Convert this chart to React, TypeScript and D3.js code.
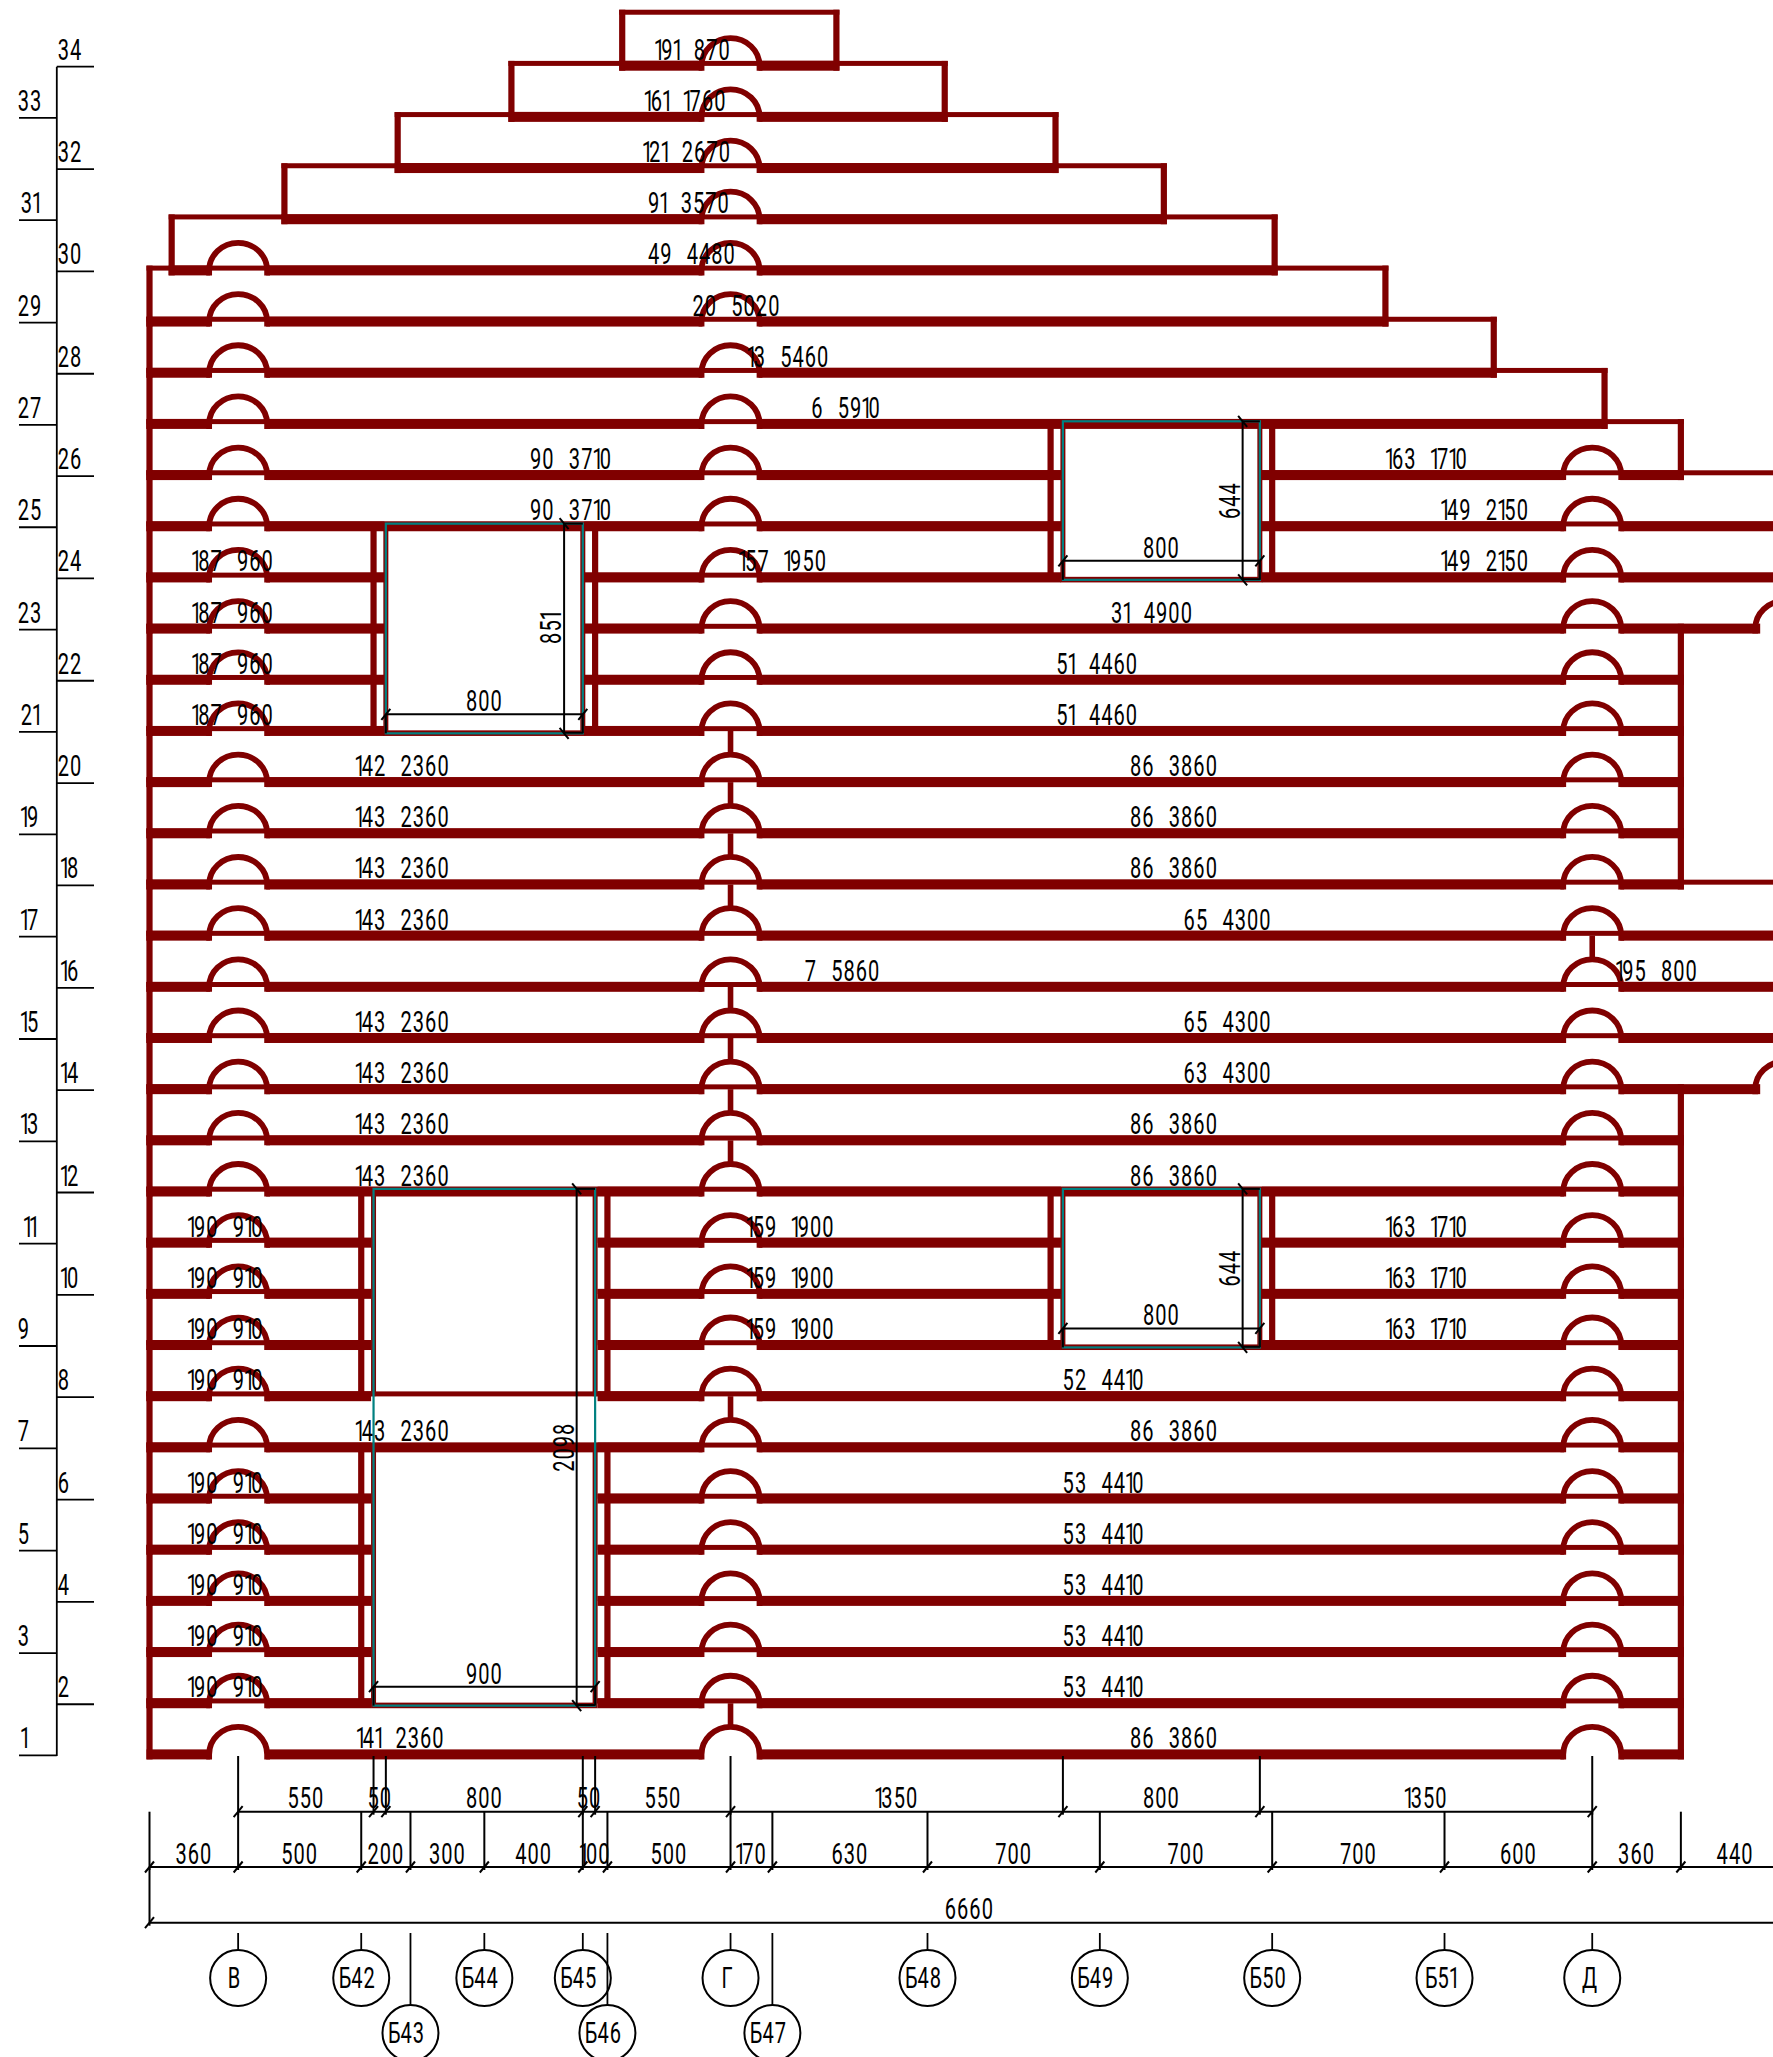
import React from "react";
import * as d3 from "d3";

// ---------- data ----------
const chain1Values = [550, 50, 800, 50, 550, 1350, 800, 1350];
const chain2Values = [360, 500, 200, 300, 400, 100, 500, 170, 630, 700, 700, 700, 600, 360, 440];
const totalLength = 6660;
const gridRow1: [string, number][] = [["В", 360], ["Б42", 860], ["Б44", 1360], ["Б45", 1760], ["Г", 2360], ["Б48", 3160], ["Б49", 3860], ["Б50", 4560], ["Б51", 5260], ["Д", 5860]];
const gridRow2: [string, number][] = [["Б43", 1060], ["Б46", 1860], ["Б47", 2530]];
const columnB = 360, columnG = 2360, columnD = 5860, columnNext = 6640;
const EDGE = 9000;

// [course, left end, right end] in mm
const stepped: [number, number, number][] = [
  [34, 1920, 2790], [33, 1470, 3230], [32, 1008, 3680], [31, 548, 4120], [30, 90, 4570],
  [29, 0, 5020], [28, 0, 5460], [27, 0, 5910], [26, 0, 6220], [25, 0, EDGE], [24, 0, EDGE], [23, 0, 6530],
  [22, 0, 6220], [21, 0, 6220], [20, 0, 6220], [19, 0, 6220], [18, 0, 6220], [17, 0, EDGE], [16, 0, EDGE], [15, 0, EDGE],
  [14, 0, 6530], [13, 0, 6220], [12, 0, 6220], [11, 0, 6220], [10, 0, 6220], [9, 0, 6220], [8, 0, 6220], [7, 0, 6220],
  [6, 0, 6220], [5, 0, 6220], [4, 0, 6220], [3, 0, 6220], [2, 0, 6220], [1, 0, 6220],
];
const topEdgeOverride: Record<number, number> = { 23: EDGE, 14: EDGE };
const noEndWall = [23, 14];

// openings: clear span, frame span, courses (top level, bottom level)
const openings = [
  { a: 3710, b: 4510, gapA: 3702, gapB: 4518, wallA: 3660, wallB: 4560, top: 27, bottom: 24, sill: true },
  { a: 960, b: 1760, gapA: 954, gapB: 1766, wallA: 910, wallB: 1810, top: 25, bottom: 21, sill: true },
  { a: 3710, b: 4510, gapA: 3702, gapB: 4518, wallA: 3660, wallB: 4560, top: 12, bottom: 9, sill: true },
  { a: 910, b: 1810, gapA: 900, gapB: 1820, wallA: 860, wallB: 1860, top: 12, bottom: 8, sill: false },
  { a: 910, b: 1810, gapA: 900, gapB: 1820, wallA: 860, wallB: 1860, top: 7, bottom: 2, sill: true },
];
// dimensioned window frames: span, top level, bottom level, width text, height text, dim offsets
const windowFrames = [
  { a: 3710, b: 4510, top: 27, bottom: 24, w: "800", h: "644", dimA: 4440, dimY: 16 },
  { a: 960, b: 1760, top: 25, bottom: 21, w: "800", h: "851", dimA: 1684, dimY: 16 },
  { a: 3710, b: 4510, top: 12, bottom: 9, w: "800", h: "644", dimA: 4440, dimY: 16 },
  { a: 910, b: 1810, top: 12, bottom: 2, w: "900", h: "2098", dimA: 1735, dimY: 16 },
];
const stubsG = [20, 19, 18, 17, 15, 14, 13, 12, 7, 1];
const stubsD = [16];

const courseLabels: [number, string, number][] = [
  [34, "191 870", 2207], [33, "161 1760", 2177], [32, "121 2670", 2183], [31, "91 3570", 2191], [30, "49 4480", 2203],
  [29, "20 5020", 2384], [28, "13 5460", 2595], [27, "6 5910", 2829],
  [26, "90 3710", 1712], [26, "163 1710", 5188],
  [25, "90 3710", 1712], [25, "149 2150", 5424],
  [24, "187 960", 339], [24, "157 1950", 2573], [24, "149 2150", 5424],
  [23, "187 960", 339], [23, "31 4900", 4072],
  [22, "187 960", 339], [22, "51 4460", 3849],
  [21, "187 960", 339], [21, "51 4460", 3849],
  [20, "142 2360", 1028], [20, "86 3860", 4161],
  [19, "143 2360", 1028], [19, "86 3860", 4161],
  [18, "143 2360", 1028], [18, "86 3860", 4161],
  [17, "143 2360", 1028], [17, "65 4300", 4379],
  [16, "7 5860", 2815], [16, "195 800", 6123],
  [15, "143 2360", 1028], [15, "65 4300", 4379],
  [14, "143 2360", 1028], [14, "63 4300", 4379],
  [13, "143 2360", 1028], [13, "86 3860", 4161],
  [12, "143 2360", 1028], [12, "86 3860", 4161],
  [11, "190 910", 309], [11, "159 1900", 2604], [11, "163 1710", 5188],
  [10, "190 910", 309], [10, "159 1900", 2604], [10, "163 1710", 5188],
  [9, "190 910", 309], [9, "159 1900", 2604], [9, "163 1710", 5188],
  [8, "190 910", 309], [8, "52 4410", 3875],
  [7, "143 2360", 1028], [7, "86 3860", 4161],
  [6, "190 910", 309], [6, "53 4410", 3875],
  [5, "190 910", 309], [5, "53 4410", 3875],
  [4, "190 910", 309], [4, "53 4410", 3875],
  [3, "190 910", 309], [3, "53 4410", 3875],
  [2, "190 910", 309], [2, "53 4410", 3875],
  [1, "141 2360", 1020], [1, "86 3860", 4161],
];
const levels = d3.range(1, 35);

// ---------- scales ----------
const W = 1773, H = 2057;
const x = d3.scaleLinear().domain([0, 6660]).range([149.5, 149.5 + 6660 * 0.2462]);
const y = d3.scaleLinear().domain([1, 34]).range([1754.4, 65.7]);

const RED = "#800000", TEAL = "#008080", INK = "#000";
const BAND = 10, TOPLINE = 5, WALL = 6.2, ARC_RX = 29, ARC_RY = 27.5, ARC_W = 5.8;
const arcGap = 28 / 0.2462;

function subtract(seg: [number, number], gaps: [number, number][]) {
  let out: [number, number][] = [seg];
  gaps.forEach(([g0, g1]) => {
    const next: [number, number][] = [];
    out.forEach(([a, b]) => {
      if (g1 <= a || g0 >= b) next.push([a, b]);
      else {
        if (g0 > a) next.push([a, g0]);
        if (g1 < b) next.push([g1, b]);
      }
    });
    out = next;
  });
  return out;
}

function charAdvance(c: string) {
  if (c === "1") return 6.2;
  if (c === " ") return 14.2;
  if (c === "Б" || c === "В" || c === "Д") return 12.6;
  if (c === "Г") return 10;
  return 12.3;
}

function Cad({ cx, by, text, rotate = 0 }: { cx: number; by: number; text: string; rotate?: number }) {
  const sx = 0.68;
  const size = 29.5;
  const pos: number[] = [];
  let acc = 0;
  for (const c of text) {
    pos.push(acc);
    acc += charAdvance(c);
  }
  const shift = acc / 2;
  const xs = pos.map((p, i) => ((p - shift - (text[i] === "1" ? 1.2 : 0)) / sx).toFixed(2)).join(" ");
  return (
    <text
      transform={`translate(${cx},${by}) rotate(${rotate}) scale(${sx},1)`}
      x={xs}
      y={0}
      fontFamily="Roboto"
      fontWeight={400}
      fontSize={size}
      fill={INK}
    >
      {text}
    </text>
  );
}

function Slash({ px, py, back = false }: { px: number; py: number; back?: boolean }) {
  const d = back ? -1 : 1;
  return <line x1={px - 4.5 * d} y1={py + 5.5} x2={px + 4.5 * d} y2={py - 5.5} stroke={INK} strokeWidth={2} />;
}

export default function App() {
  const bands: JSX.Element[] = [];
  stepped.forEach(([k, left, right]) => {
    const yb = y(k), yt = y(k + 1);
    const wins = openings.filter((o) => k < o.top && k >= o.bottom);
    const winGaps = wins.map((o) => [o.gapA, o.gapB] as [number, number]);
    const sillGaps = openings.filter((o) => o.sill && o.bottom - 1 === k).map((o) => [o.a, o.b] as [number, number]);
    const cols: number[] = [columnG];
    if (k <= 30) cols.push(columnB);
    if (k <= 26) cols.push(columnD);
    const arcGaps = cols.map((c) => [c - arcGap, c + arcGap] as [number, number]);
    const padL = 3 / 0.2462;
    subtract([left - padL, right + padL], [...winGaps, ...arcGaps]).forEach(([a, b], i) => {
      bands.push(<rect key={`b${k}-${i}`} x={x(a)} y={yb - BAND / 2} width={x(b) - x(a)} height={BAND} fill={RED} />);
    });
    const topRight = topEdgeOverride[k] ?? right;
    subtract([left - padL, topRight + padL], [...winGaps, ...sillGaps]).forEach(([a, b], i) => {
      bands.push(<rect key={`t${k}-${i}`} x={x(a)} y={yt - 2.3 - TOPLINE / 2} width={x(b) - x(a)} height={TOPLINE} fill={RED} />);
    });
    [left, right].forEach((e, i) => {
      if (e < 6660 && !(i === 1 && noEndWall.includes(k))) {
        const yTop = yt - 4.8;
        bands.push(<rect key={`w${k}-${i}`} x={x(e) - WALL / 2} y={yTop} width={WALL} height={yb + BAND / 2 - yTop} fill={RED} />);
      }
    });
    cols.forEach((c) => {
      const cxp = x(c);
      bands.push(
        <path
          key={`a${k}-${c}`}
          d={`M${cxp - ARC_RX},${yb + BAND / 2}L${cxp - ARC_RX},${yb}A${ARC_RX},${ARC_RY} 0 0 1 ${cxp + ARC_RX},${yb}L${cxp + ARC_RX},${yb + BAND / 2}`}
          fill="none"
          stroke={RED}
          strokeWidth={ARC_W}
        />
      );
    });
    if (k === 23 || k === 14) {
      const cxp = x(columnNext);
      bands.push(
        <path
          key={`an${k}`}
          d={`M${cxp - ARC_RX},${yb + BAND / 2}L${cxp - ARC_RX},${yb}A${ARC_RX},${ARC_RY} 0 0 1 ${cxp + ARC_RX},${yb}`}
          fill="none"
          stroke={RED}
          strokeWidth={ARC_W}
        />
      );
    }
  });

  const stubs = [
    ...stubsG.map((k) => ({ k, c: columnG })),
    ...stubsD.map((k) => ({ k, c: columnD })),
  ];

  const c1 = [columnB, ...d3.cumsum(chain1Values).map((v) => v + columnB)];
  const c2 = [0, ...d3.cumsum(chain2Values)];
  const y1 = 1811.7, y2 = 1867, y3 = 1922.7;

  return (
    <svg
      width={W}
      height={H}
      viewBox={`0 0 ${W} ${H}`}
      style={{ position: "absolute", left: 0, top: 0, display: "block", background: "#fff" }}
    >
      {/* courses */}
      <g>{bands}</g>
      {stubs.map(({ k, c }) => (
        <line key={`s${k}-${c}`} x1={x(c)} x2={x(c)} y1={y(k + 1)} y2={y(k) - ARC_RY} stroke={RED} strokeWidth={5.6} />
      ))}
      {/* opening jambs */}
      {openings.map((o, i) => (
        <g key={`o${i}`}>
          {[o.wallA, o.wallB].map((m) => (
            <rect key={m} x={x(m) - WALL / 2} y={y(o.top)} width={WALL} height={y(o.bottom) - y(o.top)} fill={RED} />
          ))}
          <rect x={x(o.a) - 2.5} y={y(o.top)} width={5} height={y(o.bottom) - y(o.top)} fill={RED} />
          <rect x={x(o.b) - 2.5} y={y(o.top)} width={5} height={y(o.bottom) - y(o.top)} fill={RED} />
          {o.sill && <rect x={x(o.a) - 2.5} y={y(o.bottom) - 0.6} width={x(o.b) - x(o.a) + 5} height={5.6} fill={RED} />}
        </g>
      ))}
      {/* window frames with dimensions */}
      {windowFrames.map((f, i) => {
        const xa = x(f.a), xb = x(f.b), yt = y(f.top) - 2.6, yb = y(f.bottom) + 2.4;
        const vx = x(f.dimA), hy = yb - f.dimY - 3;
        return (
          <g key={`f${i}`}>
            <rect x={xa} y={yt} width={xb - xa} height={yb - yt} fill="none" stroke={TEAL} strokeWidth={2.2} />
            <g stroke={INK} strokeWidth={2}>
              <line x1={xa} x2={xb} y1={hy} y2={hy} />
              <line x1={vx} x2={vx} y1={yt} y2={yb} />
              <line x1={vx} x2={xb} y1={yt} y2={yt} />
              <line x1={vx} x2={xb} y1={yb - 0.6} y2={yb - 0.6} />
              <line x1={xa} x2={xa} y1={hy} y2={yb} />
              <line x1={xb} x2={xb} y1={hy} y2={yb} />
            </g>
            <Slash px={xa} py={hy} />
            <Slash px={xb} py={hy} />
            <Slash px={vx} py={yt} back />
            <Slash px={vx} py={yb} back />
            <Cad cx={(xa + xb) / 2} by={hy - 3} text={f.w} />
            <Cad cx={vx - 3} by={(yt + yb) / 2} text={f.h} rotate={-90} />
          </g>
        );
      })}
      {/* course labels */}
      {courseLabels.map(([k, t, m], i) => (
        <Cad key={`l${i}`} cx={x(m)} by={y(k) - 6} text={t} />
      ))}
      {/* level ladder */}
      <g stroke={INK} strokeWidth={1.8}>
        <line x1={56.8} x2={56.8} y1={y(34) + 1} y2={y(1) + 1.5} />
        {levels.map((k) =>
          k % 2 === 0 ? (
            <line key={k} x1={56.8} x2={94} y1={y(k) + 1} y2={y(k) + 1} />
          ) : (
            <line key={k} x1={19} x2={56.8} y1={y(k) + 1} y2={y(k) + 1} />
          )
        )}
      </g>
      {levels.map((k) => {
        const w = String(k).length === 2 ? 11 : 5;
        return <Cad key={`lv${k}`} cx={(k % 2 === 0 ? 59 : 19) + w} by={y(k) - 6} text={String(k)} />;
      })}
      {/* dimension chains */}
      <g stroke={INK} strokeWidth={2}>
        <line x1={x(c1[0])} x2={x(c1[c1.length - 1])} y1={y1} y2={y1} />
        <line x1={x(0)} x2={W} y1={y2} y2={y2} />
        <line x1={x(0)} x2={W} y1={y3} y2={y3} />
        {c1.map((m) => (
          <line key={`e1${m}`} x1={x(m)} x2={x(m)} y1={1756} y2={y1 + 3} />
        ))}
        {c2.filter((m) => x(m) < W).map((m) => (
          <line key={`e2${m}`} x1={x(m)} x2={x(m)} y1={y1} y2={y2 + 3} />
        ))}
        <line x1={x(0)} x2={x(0)} y1={y2} y2={y3 + 3} />
      </g>
      {c1.map((m) => (
        <Slash key={`t1${m}`} px={x(m)} py={y1} />
      ))}
      {c2.filter((m) => x(m) < W).map((m) => (
        <Slash key={`t2${m}`} px={x(m)} py={y2} />
      ))}
      <Slash px={x(0)} py={y3} />
      {chain1Values.map((v, i) => (
        <Cad key={`d1${i}`} cx={x((c1[i] + c1[i + 1]) / 2)} by={y1 - 3.5} text={String(v)} />
      ))}
      {chain2Values.map((v, i) => (
        <Cad key={`d2${i}`} cx={x((c2[i] + c2[i + 1]) / 2)} by={y2 - 3} text={String(v)} />
      ))}
      <Cad cx={x(totalLength / 2)} by={y3 - 4} text={String(totalLength)} />
      {/* grid bubbles */}
      {[...gridRow1.map((g) => ({ g, cy: 1978 })), ...gridRow2.map((g) => ({ g, cy: 2033 }))].map(({ g: [t, m], cy }) => (
        <g key={t}>
          <line x1={x(m)} x2={x(m)} y1={1933} y2={cy - 28} stroke={INK} strokeWidth={1.8} />
          <circle cx={x(m)} cy={cy} r={28} fill="none" stroke={INK} strokeWidth={2} />
          <Cad cx={x(m) - 4} by={cy + 10} text={t} />
        </g>
      ))}
    </svg>
  );
}
